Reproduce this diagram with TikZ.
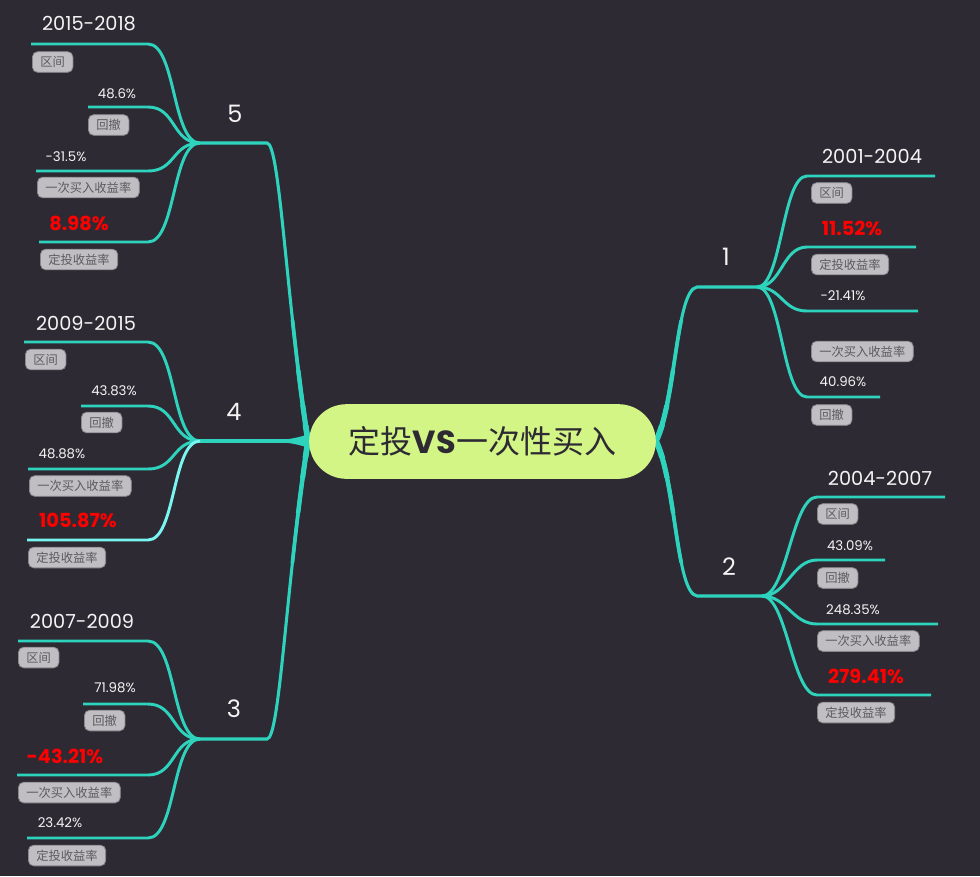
\documentclass[tikz,border=0pt]{standalone}
\usepackage{fontspec}
\setmainfont{Poppins}
\newfontfamily\cjk{Noto Sans CJK SC}
\definecolor{bg}{HTML}{2E2A33}
\definecolor{teal}{HTML}{2ED3BE}
\definecolor{tealhi}{HTML}{7AF6F2}
\definecolor{lblfill}{HTML}{C0BEC2}
\definecolor{lblborder}{HTML}{8B888D}
\definecolor{lbltext}{HTML}{5D5A60}
\definecolor{titlefill}{HTML}{D3F586}
\definecolor{titletext}{HTML}{2E2A33}
\definecolor{numwhite}{HTML}{F4F4F4}
\definecolor{rednum}{HTML}{FF0000}
\newcommand\LeafL[5][]{%
  \coordinate (#2) at (#3,#4);
  \coordinate (#2k) at (148,#4);
  \draw[leaf,#1] (#2) -- (#2k) .. controls +(28,0) and +(-28,0) .. (#5);}
\newcommand\LeafR[6][]{%
  \coordinate (#2k) at (#3,#4);
  \coordinate (#2) at (#5,#4);
  \draw[leaf,#1] (#6) .. controls +(25,0) and +(-25,0) .. (#2k) -- (#2);}
\newcommand\MainCurves[1]{%
  \draw[mainbr,line width=#1] (h5) -- (k5) .. controls +(13,0) and +(-22,-141) .. (cl);
  \draw[mainbr,line width=#1] (h3) -- (k3) .. controls +(13,0) and +(-22,141) .. (cl);
  \draw[mainbr,line width=#1] (cr) .. controls +(20,-41) and +(-21,3) .. (k1) -- (h1);
  \draw[mainbr,line width=#1] (cr) .. controls +(20,41) and +(-21,-3) .. (k2) -- (h2);}
\begin{document}
\begin{tikzpicture}[x=0.75pt,y=-0.75pt,
  leaf/.style={draw=teal,line width=2.2pt},
  mainbr/.style={draw=teal,line width=2.3pt},
  lbl/.style={anchor=west,fill=lblfill,draw=lblborder,line width=0.6pt,rounded corners=4pt,
    text=lbltext,font=\cjk\fontsize{9.2}{9.2}\selectfont,inner xsep=6pt,inner ysep=0pt,minimum height=15.5pt},
  yr/.style={text=numwhite,font=\fontsize{14.5}{14.5}\selectfont,inner sep=0pt},
  num/.style={text=numwhite,font=\fontsize{10}{10}\selectfont,inner sep=0pt},
  rnum/.style={text=rednum,font=\bfseries\fontsize{14.5}{14.5}\selectfont,inner sep=0pt},
  lvl/.style={text=numwhite,font=\fontsize{18}{18}\selectfont,inner sep=0pt},
  titlebox/.style={fill=titlefill,rounded corners=28pt,minimum width=260pt,minimum height=56pt,
    text=titletext,font=\fontsize{24}{24}\selectfont,inner sep=0pt}]
\fill[bg] (0,0) rectangle (980,876);
\useasboundingbox (0,0) rectangle (980,876);

% centre connection points, hubs, corners
\coordinate (cl) at (308,441);
\coordinate (cr) at (656,441);
\coordinate (h5) at (200,143);
\coordinate (h4) at (200,441);
\coordinate (h3) at (200,739);
\coordinate (h1) at (757,287);
\coordinate (h2) at (762,596);
\coordinate (k5) at (267,143);
\coordinate (k3) at (267,739);
\coordinate (k1) at (697,287);
\coordinate (k2) at (697,596);

% main branches, thickening toward the centre
\MainCurves{2.3pt}
\begin{scope}\clip (230,320) rectangle (720,562); \MainCurves{2.8pt}\end{scope}
\begin{scope}\clip (230,370) rectangle (720,512); \MainCurves{3.3pt}\end{scope}
\begin{scope}\clip (230,405) rectangle (720,477); \MainCurves{3.8pt}\end{scope}
\begin{scope}\clip (230,425) rectangle (720,457); \MainCurves{4.3pt}\end{scope}
\draw[mainbr] (h4) -- (cl);
% flare of the middle branch
\fill[teal] (313,433) .. controls (302,436) and (294,439.4) .. (278,439.8) -- (278,442.2)
  .. controls (294,442.6) and (302,446) .. (313,449) -- cycle;

% leaves of 5
\LeafL{l51}{31}{44}{h5}
\LeafL{l52}{88}{107}{h5}
\LeafL{l53}{36}{171}{h5}
\LeafL{l54}{39}{242}{h5}
% leaves of 4
\LeafL{l41}{24}{342}{h4}
\LeafL{l42}{81}{406}{h4}
\LeafL{l43}{28}{469}{h4}
\LeafL[draw=tealhi]{l44}{27}{540}{h4}
% leaves of 3
\LeafL{l31}{18}{641}{h3}
\LeafL{l32}{83}{704}{h3}
\LeafL{l33}{17}{775}{h3}
\LeafL{l34}{27}{838}{h3}
% leaves of 1
\LeafR{r11}{807}{176}{935}{h1}
\LeafR{r12}{807}{247}{916}{h1}
\LeafR{r13}{807}{311}{918}{h1}
\LeafR{r14}{807}{397}{880}{h1}
% leaves of 2
\LeafR{r21}{817}{497}{945}{h2}
\LeafR{r22}{817}{560}{885}{h2}
\LeafR{r23}{817}{624}{938}{h2}
\LeafR{r24}{817}{695}{931}{h2}

% centre
\node[titlebox] (ctr) at (482.5,441.5) {{\cjk 定投}{\bfseries VS}{\cjk 一次性买入}};

% level-1 labels
\node[lvl] (n5) at (235,114) {5};
\node[lvl] (n4) at (234,412) {4};
\node[lvl] (n3) at (234,709) {3};
\node[lvl] (n1) at (726,257) {1};
\node[lvl] (n2) at (729,567) {2};

% texts of 5
\node[yr] (t51) at (89,24) {2015-2018};
\node[num] (t52) at (117,94) {48.6\%};
\node[num] (t53) at (66,157) {-31.5\%};
\node[rnum] (t54) at (79,223) {8.98\%};
\node[lbl] (b51) at (32,62) {区间};
\node[lbl] (b52) at (88,125) {回撤};
\node[lbl] (b53) at (37,187.5) {一次买入收益率};
\node[lbl] (b54) at (40,259.5) {定投收益率};
% texts of 4
\node[yr] (t41) at (86,323) {2009-2015};
\node[num] (t42) at (114,391) {43.83\%};
\node[num] (t43) at (62,454) {48.88\%};
\node[rnum] (t44) at (78,520) {105.87\%};
\node[lbl] (b41) at (25,359.5) {区间};
\node[lbl] (b42) at (81,422.5) {回撤};
\node[lbl] (b43) at (29,486) {一次买入收益率};
\node[lbl] (b44) at (28,557.5) {定投收益率};
% texts of 3
\node[yr] (t31) at (82,621) {2007-2009};
\node[num] (t32) at (115,688) {71.98\%};
\node[rnum] (t33) at (65,756) {-43.21\%};
\node[num] (t34) at (60,823) {23.42\%};
\node[lbl] (b31) at (18,657.5) {区间};
\node[lbl] (b32) at (84,720.5) {回撤};
\node[lbl] (b33) at (18,792.5) {一次买入收益率};
\node[lbl] (b34) at (28,855.5) {定投收益率};
% texts of 1
\node[yr] (t11) at (872,156) {2001-2004};
\node[rnum] (t12) at (852,228) {11.52\%};
\node[num] (t13) at (843,296) {-21.41\%};
\node[num] (t14) at (843,382) {40.96\%};
\node[lbl] (b11) at (811,193) {区间};
\node[lbl] (b12) at (811,264.5) {定投收益率};
\node[lbl] (b13) at (811,351.5) {一次买入收益率};
\node[lbl] (b14) at (811,415) {回撤};
% texts of 2
\node[yr] (t21) at (880,478) {2004-2007};
\node[num] (t22) at (850,546) {43.09\%};
\node[num] (t23) at (853,610) {248.35\%};
\node[rnum] (t24) at (866,676) {279.41\%};
\node[lbl] (b21) at (817,514) {区间};
\node[lbl] (b22) at (817,578) {回撤};
\node[lbl] (b23) at (817,641) {一次买入收益率};
\node[lbl] (b24) at (817,712.5) {定投收益率};
\end{tikzpicture}
\end{document}
